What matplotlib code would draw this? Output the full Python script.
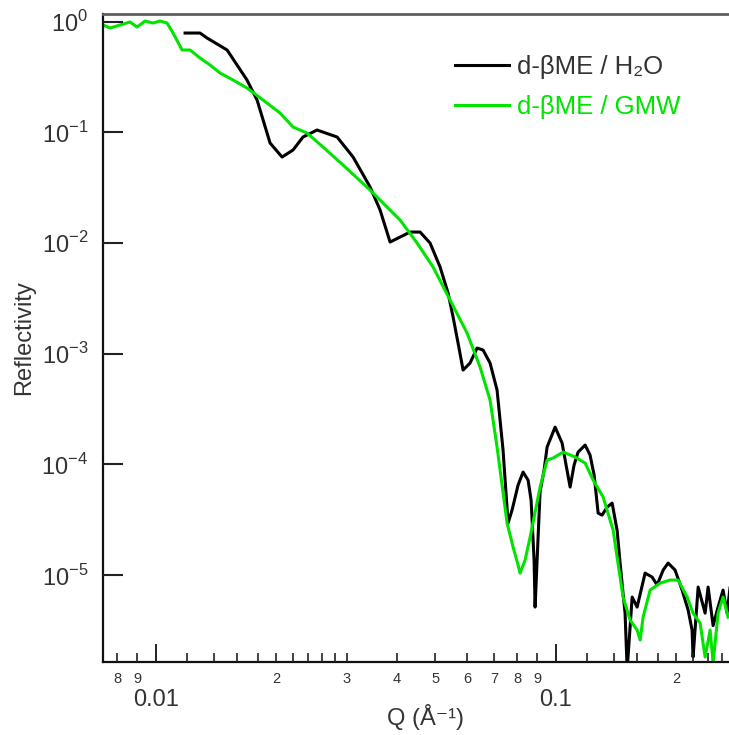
import matplotlib
matplotlib.use("Agg")
import matplotlib.pyplot as plt
from matplotlib.ticker import FixedLocator, FixedFormatter, NullLocator

plt.rcParams['font.family'] = ['Liberation Sans', 'DejaVu Sans']
plt.rcParams['mathtext.fontset'] = 'custom'
plt.rcParams['mathtext.rm'] = 'Liberation Sans'

# ---- data: d-bME / H2O (black) ----
q_h2o = [0.01184, 0.01290, 0.01344, 0.01508, 0.01691, 0.01792, 0.01931, 0.02069,
         0.02204, 0.02334, 0.02531, 0.02840, 0.03114, 0.03434, 0.03638, 0.03853,
         0.04081, 0.04323, 0.04579, 0.04850, 0.05138, 0.05380, 0.05537, 0.05698,
         0.05865, 0.06105, 0.06357, 0.06580, 0.06850, 0.07132, 0.07256, 0.07382,
         0.07599, 0.07776, 0.08049, 0.08284, 0.08526, 0.08675, 0.08826, 0.08877,
         0.08980, 0.09136, 0.09349, 0.09512, 0.09960, 0.1037, 0.1061, 0.1086,
         0.1111, 0.1137, 0.1184, 0.1218, 0.1247, 0.1276, 0.1305, 0.1344,
         0.1383, 0.1423, 0.1448, 0.1473, 0.1490, 0.1508, 0.1552, 0.1597,
         0.1672, 0.1741, 0.1792, 0.1855, 0.1909, 0.1987, 0.2069, 0.2142,
         0.2191, 0.2204, 0.2269, 0.2362, 0.2403, 0.2473, 0.2545, 0.2619,
         0.2680, 0.2743]
r_h2o = [0.787, 0.787, 0.709, 0.553, 0.296, 0.1953, 0.0799, 0.0597,
         0.0691, 0.0905, 0.1047, 0.0905, 0.0597, 0.0320, 0.01982, 0.01019,
         0.01130, 0.01254, 0.01254, 0.00998, 0.00606, 0.003527, 0.002141, 0.001247,
         7.11e-4, 8.23e-4, 1.124e-3, 1.078e-3, 8.23e-4, 4.69e-4, 2.51e-4, 1.346e-4,
         2.95e-5, 3.87e-5, 6.50e-5, 8.52e-5, 7.21e-5, 4.76e-5, 1.366e-5, 5.14e-6,
         1.366e-5, 5.68e-5, 8.88e-5, 1.433e-4, 2.17e-4, 1.558e-4, 9.86e-5, 6.24e-5,
         9.86e-5, 1.291e-4, 1.494e-4, 1.213e-4, 8.0e-5, 3.63e-5, 3.48e-5, 4.11e-5,
         4.47e-5, 2.55e-5, 1.284e-5, 6.79e-6, 4.53e-6, 1.4e-6, 6.33e-6, 5.14e-6,
         1.042e-5, 9.59e-6, 8.14e-6, 1.109e-5, 1.284e-5, 1.109e-5, 7.32e-6, 4.83e-6,
         3.19e-6, 1.82e-6, 7.79e-6, 4.53e-6, 7.79e-6, 3.5e-6, 5.14e-6, 7.32e-6,
         4.53e-6, 9.3e-6]

# ---- data: d-bME / GMW (green) ----
q_gmw = [0.007386, 0.007686, 0.008143, 0.008624, 0.008979, 0.009402, 0.009846, 0.010251,
         0.010672, 0.011047, 0.011636, 0.012184, 0.012904, 0.013669, 0.014479, 0.015608,
         0.016914, 0.018546, 0.020454, 0.02204, 0.023888, 0.026198, 0.029397, 0.03434,
         0.04081, 0.045006, 0.049348, 0.054419, 0.060011, 0.06467, 0.0685, 0.07132,
         0.07555, 0.07821, 0.08049, 0.08142, 0.0838, 0.08626, 0.09136, 0.09512,
         0.09846, 0.1043, 0.1118, 0.1184, 0.1240, 0.1313, 0.1391, 0.1423,
         0.1473, 0.1534, 0.1597, 0.1625, 0.1653, 0.1721, 0.1823, 0.1931,
         0.2022, 0.2130, 0.2204, 0.2295, 0.2362, 0.2431, 0.2473, 0.2545,
         0.2619, 0.2696]
r_gmw = [0.930, 0.874, 0.930, 0.990, 0.892, 1.01, 0.969, 1.01,
         0.969, 0.787, 0.553, 0.553, 0.468, 0.405, 0.3425, 0.296,
         0.2508, 0.1953, 0.1491, 0.1114, 0.0983, 0.0735, 0.0505, 0.03005,
         0.0161, 0.00998, 0.00606, 0.00305, 0.001535, 7.57e-4, 3.81e-4, 1.433e-4,
         2.95e-5, 1.79e-5, 1.231e-5, 1.042e-5, 1.366e-5, 2.2e-5, 6.24e-5, 1.093e-4,
         1.14e-4, 1.291e-4, 1.164e-4, 1.027e-4, 7.21e-5, 5.07e-5, 2.55e-5, 1.454e-5,
         6.33e-6, 3.92e-6, 3.19e-6, 2.59e-6, 4.17e-6, 7.32e-6, 8.47e-6, 9.01e-6,
         9.01e-6, 6.33e-6, 4.53e-6, 3.68e-6, 1.82e-6, 3.19e-6, 1.60e-6, 4.53e-6,
         6.33e-6, 4.17e-6]

labels = ['d-\u03b2ME / H\u2082O', 'd-\u03b2ME / GMW']
x_major = [0.01, 0.1]
x_major_labels = ['0.01', '0.1']
x_minor = [0.008, 0.009, 0.012, 0.014, 0.016, 0.018, 0.02, 0.022, 0.024, 0.026, 0.028,
           0.03, 0.04, 0.05, 0.06, 0.07, 0.08, 0.09,
           0.12, 0.14, 0.16, 0.18, 0.2, 0.22, 0.24, 0.26]
x_minor_labels = ['8', '9', '', '', '', '', '2', '', '', '', '',
                  '3', '4', '5', '6', '7', '8', '9',
                  '', '', '', '', '2', '', '', '']
y_major = [1e0, 1e-1, 1e-2, 1e-3, 1e-4, 1e-5]
y_major_labels = ['$10^{0}$', '$10^{-1}$', '$10^{-2}$', '$10^{-3}$', '$10^{-4}$', '$10^{-5}$']

BLACK = '#000000'
GREEN = '#00E400'
TXT = '#333333'
TICK = '#222222'

fig = plt.figure(figsize=(7.29, 7.35), dpi=100)
ax = fig.add_axes([0.1409, 0.0997, 0.8591, 0.8813])
ax.set_xscale('log')
ax.set_yscale('log')
ax.set_axisbelow(False)

l1, = ax.plot(q_h2o, r_h2o, color=BLACK, lw=2.2)
l2, = ax.plot(q_gmw, r_gmw, color=GREEN, lw=2.2)

ax.set_xlim(0.00737, 0.271)
ax.set_ylim(1.65e-6, 1.17)

# x ticks
ax.xaxis.set_major_locator(FixedLocator(x_major))
ax.xaxis.set_major_formatter(FixedFormatter(x_major_labels))
ax.xaxis.set_minor_locator(FixedLocator(x_minor))
ax.xaxis.set_minor_formatter(FixedFormatter(x_minor_labels))
ax.tick_params(axis='x', which='major', direction='in', length=13, width=1.4,
               color=TICK, labelsize=17, labelcolor=TXT, pad=19.5,
               bottom=True, top=False)
ax.tick_params(axis='x', which='minor', direction='in', length=6.5, width=1.2,
               color=TICK, labelsize=10.5, labelcolor=TXT, pad=7.5,
               bottom=True, top=False)

# y ticks
ax.yaxis.set_major_locator(FixedLocator(y_major))
ax.yaxis.set_major_formatter(FixedFormatter(y_major_labels))
ax.yaxis.set_minor_locator(NullLocator())
ax.tick_params(axis='y', which='major', direction='in', length=14.4, width=1.5,
               color=TICK, labelsize=17, labelcolor=TXT, pad=10.5,
               left=True, right=False)

# spines
ax.spines['right'].set_visible(False)
ax.spines['top'].set_color('#5f5f5f')
ax.spines['top'].set_linewidth(2.0)
for s in ('left', 'bottom'):
    ax.spines[s].set_color('#111111')
    ax.spines[s].set_linewidth(1.6)

ax.set_xlabel('Q (\u00c5\u207b\u00b9)', fontsize=17, color=TXT)
ax.xaxis.set_label_coords(0.5146, -0.065)
ax.set_ylabel('Reflectivity', fontsize=17, color=TXT)
ax.yaxis.set_label_coords(-0.108, 0.5)

leg = ax.legend([l1, l2], labels, loc='upper left', bbox_to_anchor=(0.5625, 0.936),
                frameon=False, fontsize=18.5, handlelength=2.1, handletextpad=0.3,
                labelspacing=0.6, borderpad=0, borderaxespad=0)
leg.get_texts()[0].set_color(TXT)
leg.get_texts()[1].set_color(GREEN)

fig.savefig('out.png', dpi=100)
